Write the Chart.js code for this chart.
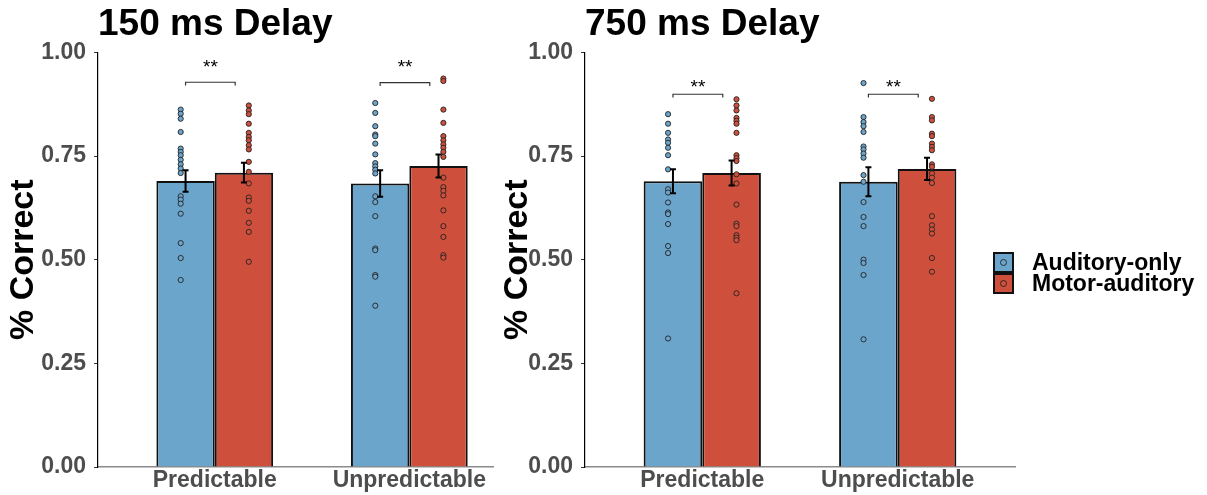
<!DOCTYPE html>
<html>
<head>
<meta charset="utf-8">
<script src="https://cdn.jsdelivr.net/npm/chart.js@4"></script>
<style>
  html, body { margin: 0; padding: 0; background: #fff; }
  body { width: 1207px; height: 495px; position: relative; overflow: hidden; }
  canvas { position: absolute; top: 0; }
  #chartShort { left: 0; }
  #chartLong { left: 493px; }
</style>
</head>
<body>
<canvas id="chartShort" width="500" height="495"></canvas>
<canvas id="chartLong" width="714" height="495"></canvas>
<script>
const categories = ['Predictable', 'Unpredictable'];
const groups = ['Auditory-only', 'Motor-auditory'];
const groupColors = ['#6BA5CC', '#CE4F3B'];
const yTicks = [0, 0.25, 0.5, 0.75, 1];
const sigLabels = ['**', '**'];

// 150 ms delay panel
const shortMeanAud = [0.690, 0.684];
const shortMeanMot = [0.710, 0.726];
const shortSeAud = [0.026, 0.032];
const shortSeMot = [0.024, 0.028];
const shortPtsAudPred = [0.862, 0.852, 0.840, 0.808, 0.768, 0.760, 0.752, 0.741, 0.730, 0.720, 0.709, 0.653, 0.645, 0.635, 0.611, 0.540, 0.504, 0.451];
const shortPtsMotPred = [0.872, 0.860, 0.851, 0.828, 0.806, 0.796, 0.788, 0.776, 0.766, 0.736, 0.712, 0.684, 0.650, 0.642, 0.618, 0.589, 0.567, 0.495];
const shortPtsAudUnp = [0.878, 0.854, 0.822, 0.802, 0.798, 0.780, 0.754, 0.733, 0.725, 0.717, 0.708, 0.653, 0.639, 0.605, 0.527, 0.523, 0.463, 0.459, 0.389];
const shortPtsMotUnp = [0.937, 0.931, 0.862, 0.830, 0.798, 0.788, 0.778, 0.770, 0.760, 0.748, 0.698, 0.675, 0.666, 0.655, 0.619, 0.581, 0.555, 0.511, 0.505];
const shortBracketY = [0.928, 0.927];
const shortSigY = [0.978, 0.978];

// 750 ms delay panel
const longMeanAud = [0.689, 0.688];
const longMeanMot = [0.709, 0.719];
const longSeAud = [0.029, 0.035];
const longSeMot = [0.030, 0.027];
const longPtsAudPred = [0.851, 0.828, 0.806, 0.790, 0.782, 0.770, 0.752, 0.718, 0.670, 0.662, 0.638, 0.614, 0.610, 0.586, 0.533, 0.516, 0.310];
const longPtsMotPred = [0.887, 0.872, 0.860, 0.842, 0.835, 0.828, 0.806, 0.752, 0.745, 0.738, 0.706, 0.684, 0.633, 0.587, 0.581, 0.559, 0.553, 0.547, 0.419];
const longPtsAudUnp = [0.926, 0.844, 0.832, 0.822, 0.808, 0.773, 0.766, 0.756, 0.746, 0.704, 0.688, 0.639, 0.603, 0.581, 0.500, 0.492, 0.463, 0.308];
const longPtsMotUnp = [0.888, 0.844, 0.836, 0.804, 0.798, 0.780, 0.772, 0.764, 0.730, 0.724, 0.708, 0.698, 0.685, 0.605, 0.583, 0.573, 0.563, 0.504, 0.471];
const longBracketY = [0.899, 0.899];
const longSigY = [0.928, 0.928];

const fontFamily = "'Liberation Sans', Arial, sans-serif";

// error bars (mean +/- se) on top of the bars
const errorBarPlugin = {
  id: 'errorBars',
  afterDatasetsDraw(chart) {
    const { ctx } = chart;
    const y = chart.scales.y;
    chart.data.datasets.forEach((ds, di) => {
      if (!ds.errors) return;
      chart.getDatasetMeta(di).data.forEach((bar, i) => {
        const m = ds.data[i].y, se = ds.errors[i];
        const top = y.getPixelForValue(m + se);
        const bot = y.getPixelForValue(m - se);
        ctx.save();
        ctx.strokeStyle = '#000';
        ctx.lineWidth = 2;
        ctx.beginPath();
        ctx.moveTo(bar.x, top); ctx.lineTo(bar.x, bot);
        ctx.moveTo(bar.x - 3, top); ctx.lineTo(bar.x + 3, top);
        ctx.moveTo(bar.x - 3, bot); ctx.lineTo(bar.x + 3, bot);
        ctx.stroke();
        ctx.restore();
      });
    });
  }
};

// "**" above the brackets
const sigPlugin = {
  id: 'sigStars',
  afterDatasetsDraw(chart, args, opts) {
    if (!opts.labels) return;
    const { ctx } = chart;
    const { x, y } = chart.scales;
    ctx.save();
    ctx.fillStyle = '#000';
    ctx.font = '19px ' + fontFamily;
    ctx.textAlign = 'center';
    ctx.textBaseline = 'alphabetic';
    opts.labels.forEach((lab, i) => {
      ctx.fillText(lab, x.getPixelForValue(i + 1 - 0.022), y.getPixelForValue(opts.y[i]) + 11);
    });
    ctx.restore();
  }
};

// legend: square key with a point inside, like ggplot
const keyLegendPlugin = {
  id: 'keyLegend',
  afterDraw(chart, args, opts) {
    if (!opts.display) return;
    const { ctx } = chart;
    const bars = chart.data.datasets.filter(ds => ds.type === 'bar');
    ctx.save();
    bars.forEach((ds, i) => {
      const bx = opts.x, by = opts.y + i * opts.size;
      ctx.fillStyle = ds.backgroundColor;
      ctx.fillRect(bx, by, opts.size, opts.size);
      ctx.strokeStyle = '#111';
      ctx.lineWidth = 2;
      ctx.strokeRect(bx + 1, by + 1, opts.size - 2, opts.size - 2);
      ctx.beginPath();
      ctx.arc(bx + opts.size / 2, by + opts.size / 2, 3, 0, Math.PI * 2);
      ctx.lineWidth = 0.9;
      ctx.strokeStyle = '#222';
      ctx.stroke();
      ctx.fillStyle = '#000';
      ctx.font = 'bold 23px ' + fontFamily;
      ctx.textAlign = 'left';
      ctx.textBaseline = 'middle';
      ctx.fillText(ds.label, opts.textX, by + opts.size / 2 + 1);
    });
    ctx.restore();
  }
};

function makePanel(canvasId, cfg) {
  const ctx = document.getElementById(canvasId).getContext('2d');
  const datasets = [];

  [cfg.meanAud, cfg.meanMot].forEach((means, g) => {
    datasets.push({
      type: 'bar',
      label: groups[g],
      data: means.map((m, i) => ({ x: i + 1, y: m })),
      errors: g === 0 ? cfg.seAud : cfg.seMot,
      backgroundColor: groupColors[g],
      borderColor: '#111',
      borderWidth: 2,
      categoryPercentage: 0.6,
      barPercentage: 1.0,
      order: 3
    });
  });

  const pointSets = [[cfg.ptsAud[0], cfg.ptsAud[1]], [cfg.ptsMot[0], cfg.ptsMot[1]]];
  pointSets.forEach((sets, g) => {
    const shift = g === 0 ? -0.175 : 0.175;
    datasets.push({
      type: 'scatter',
      label: groups[g] + ' points',
      data: sets.flatMap((vals, i) => vals.map(v => ({ x: i + 1 + shift, y: v }))),
      backgroundColor: groupColors[g],
      borderColor: '#222',
      borderWidth: 0.9,
      pointRadius: 2.6,
      order: 2
    });
  });

  cfg.bracketY.forEach((b, i) => {
    const x0 = i + 1 - 0.15, x1 = i + 1 + 0.105;
    datasets.push({
      type: 'line',
      label: 'bracket',
      data: [{ x: x0, y: b - 0.008 }, { x: x0, y: b }, { x: x1, y: b }, { x: x1, y: b - 0.008 }],
      borderColor: '#333',
      borderWidth: 1.2,
      pointRadius: 0,
      fill: false,
      order: 1
    });
  });

  return new Chart(ctx, {
    data: { datasets },
    plugins: [errorBarPlugin, sigPlugin, keyLegendPlugin],
    options: {
      responsive: false,
      animation: false,
      layout: { padding: { left: 0, right: cfg.padRight, top: 0, bottom: 0 } },
      scales: {
        x: {
          type: 'linear',
          min: 0.4,
          max: cfg.xMax,
          offset: false,
          afterBuildTicks: axis => { axis.ticks = categories.map((c, i) => ({ value: i + 1 })); },
          afterFit: axis => { axis.height = 28; },
          ticks: {
            callback: v => categories[v - 1],
            color: '#4D4D4D',
            padding: 0,
            font: { family: fontFamily, size: 23, weight: 'bold' }
          },
          grid: { offset: false, drawOnChartArea: false, drawTicks: false },
          border: { display: true, color: '#8A8A8A', width: 1.5 }
        },
        y: {
          min: 0,
          max: 1,
          afterBuildTicks: axis => { axis.ticks = yTicks.map(v => ({ value: v })); },
          afterFit: axis => { axis.width = cfg.yWidth; },
          ticks: {
            callback: v => v.toFixed(2),
            color: '#4D4D4D',
            padding: 8,
            font: { family: fontFamily, size: 23, weight: 'bold' }
          },
          grid: { drawOnChartArea: false, drawTicks: true, tickLength: 4, color: '#333' },
          border: { display: true, color: '#000', width: 1.2 },
          title: {
            display: true,
            text: '% Correct',
            color: '#000',
            padding: { top: cfg.yTitlePad, bottom: 0 },
            font: { family: fontFamily, size: 34, weight: 'bold' }
          }
        }
      },
      plugins: {
        legend: { display: false },
        tooltip: { enabled: false },
        title: {
          display: true,
          text: cfg.title,
          align: 'start',
          fullSize: false,
          color: '#000',
          padding: { top: 3, bottom: 5 },
          font: { family: fontFamily, size: 37, weight: 'bold' }
        },
        sigStars: { labels: sigLabels, y: cfg.sigY },
        keyLegend: cfg.legend
      }
    }
  });
}

makePanel('chartShort', {
  title: '150 ms Delay',
  meanAud: shortMeanAud, meanMot: shortMeanMot,
  seAud: shortSeAud, seMot: shortSeMot,
  ptsAud: [shortPtsAudPred, shortPtsAudUnp],
  ptsMot: [shortPtsMotPred, shortPtsMotUnp],
  bracketY: shortBracketY, sigY: shortSigY,
  xMax: 2.43, padRight: 7, yWidth: 98, yTitlePad: 3,
  legend: { display: false }
});

makePanel('chartLong', {
  title: '750 ms Delay',
  meanAud: longMeanAud, meanMot: longMeanMot,
  seAud: longSeAud, seMot: longSeMot,
  ptsAud: [longPtsAudPred, longPtsAudUnp],
  ptsMot: [longPtsMotPred, longPtsMotUnp],
  bracketY: longBracketY, sigY: longSigY,
  xMax: 2.6, padRight: 192, yWidth: 92, yTitlePad: 4,
  legend: { display: true, x: 500, y: 252, size: 21, textX: 539 }
});
</script>
</body>
</html>
